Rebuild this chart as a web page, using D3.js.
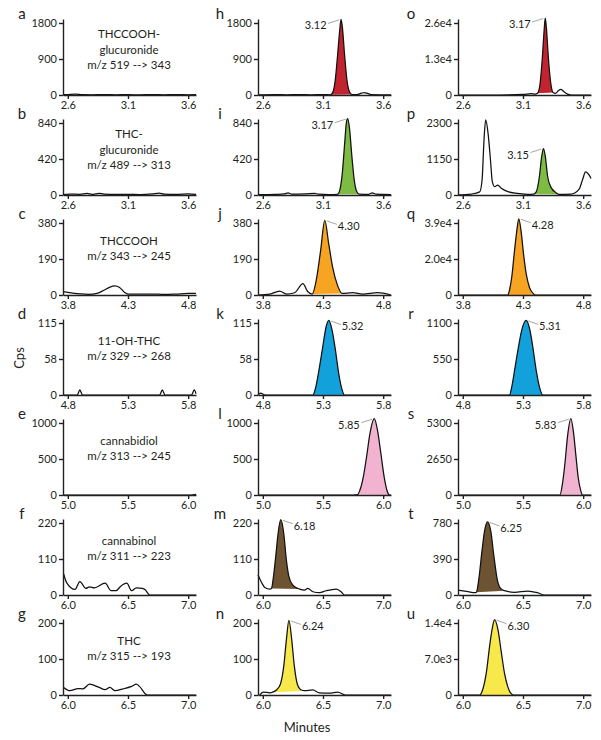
<!DOCTYPE html>
<html><head><meta charset="utf-8">
<script src="https://cdn.jsdelivr.net/npm/d3@7"></script>
<style>
body{margin:0;background:#fff}
svg{display:block}
text{font-family:Lato,"Open Sans",sans-serif;fill:#231f20}
</style>
</head><body>
<svg id="c" width="601" height="740"></svg>
<script>
// ---------- data ----------
const lettersCol1 = ["a","b","c","d","e","f","g"];
const lettersCol2 = ["h","i","j","k","l","m","n"];
const lettersCol3 = ["o","p","q","r","s","t","u"];
const compoundNames = [["THCCOOH-","glucuronide"],["THC-","glucuronide"],["THCCOOH"],["11-OH-THC"],["cannabidiol"],["cannabinol"],["THC"]];
const transitions = ["m/z 519 --> 343","m/z 489 --> 313","m/z 343 --> 245","m/z 329 --> 268","m/z 313 --> 245","m/z 311 --> 223","m/z 315 --> 193"];
const xTickStart = [2.6, 2.6, 3.8, 4.8, 5.0, 6.0, 6.0];
const yMaxCol12 = [1800, 840, 380, 115, 1000, 220, 200];
const yMidLabelsCol12 = ["900","420","190","58","500","110","100"];
const yMaxLabelsCol12 = ["1800","840","380","115","1000","220","200"];
const yMaxCol3 = [26000, 2300, 39000, 1100, 5300, 780, 14000];
const yMidLabelsCol3 = ["1.3e4","1150","2.0e4","550","2650","390","7.0e3"];
const yMaxLabelsCol3 = ["2.6e4","2300","3.9e4","1100","5300","780","1.4e4"];
const peakLabelsCol2 = ["3.12","3.17","4.30","5.32","5.85","6.18","6.24"];
const peakLabelsCol3 = ["3.17","3.15","4.28","5.31","5.83","6.25","6.30"];
const labelSide = ["L","L","R","R","L","R","R"];
const fillRangesCol2 = [[3.16,3.34],[3.22,3.40],[4.21,4.459],[5.216,5.478],[5.788,6.055],[6.072,6.306],[6.072,6.347]];
const fillRangesCol3 = [[3.22,3.35],[3.19,3.40],[4.175,4.40],[5.188,5.464],[5.807,5.994],[6.113,6.347],[6.14,6.42]];
const peakColors = ["#c1232f","#7dbb42","#f6a421","#13a1db","#f1b3cf","#6e5332","#f7e84b"];

// traces: [minutes, cps]
const traceA = [[2.56,8],[2.6,12],[2.66,20],[2.72,10],[2.8,6],[2.9,10],[3.0,5],[3.1,8],[3.2,4],[3.3,10],[3.4,6],[3.5,10],[3.6,5],[3.665,8]];
const traceB = [[2.56,5],[2.62,10],[2.7,8],[2.76,18],[2.8,8],[2.86,20],[2.9,10],[3.0,6],[3.1,8],[3.2,5],[3.3,12],[3.36,22],[3.4,10],[3.5,8],[3.6,12],[3.665,6]];
const traceC = [[3.76,18],[3.8,14],[3.9,6],[3.97,3],[4.05,10],[4.1,25],[4.15,42],[4.19,48],[4.23,40],[4.27,15],[4.3,5],[4.4,4],[4.5,5],[4.6,3],[4.7,5],[4.8,8],[4.865,8]];
const traceD = [[4.76,0],[4.878,0],[4.9,8],[4.922,0],[5.563,0],[5.585,8],[5.607,0],[5.828,0],[5.85,8],[5.865,2]];
const traceE = [[4.96,0],[5.5,0],[6.0,0],[6.04,3],[6.065,10]];
const traceF = [[5.965,65],[5.99,38],[6.06,17],[6.10,41],[6.15,20],[6.18,25],[6.22,22],[6.31,36],[6.36,13],[6.40,13],[6.44,27],[6.49,36],[6.53,13],[6.57,22],[6.62,20],[6.645,15],[6.68,0],[7.065,0]];
const traceG = [[5.965,21],[6.017,12],[6.085,18],[6.126,17],[6.18,30],[6.26,21],[6.31,15],[6.35,21],[6.39,12],[6.46,17],[6.53,24],[6.57,30],[6.595,24],[6.66,0],[7.065,0]];
const traceH = [[2.56,5],[2.7,12],[2.8,5],[2.9,10],[3.0,5],[3.1,8],[3.16,5],[3.18,60],[3.2,330],[3.22,950],[3.24,1650],[3.25,1890],[3.26,1720],[3.28,980],[3.30,350],[3.32,80],[3.34,10],[3.38,8],[3.42,45],[3.445,60],[3.47,40],[3.5,10],[3.6,5],[3.665,3]];
const traceI = [[2.56,5],[2.7,8],[2.78,12],[2.81,25],[2.84,10],[2.95,12],[3.03,20],[3.06,10],[3.15,5],[3.22,8],[3.24,60],[3.26,250],[3.28,600],[3.295,850],[3.305,890],[3.32,780],[3.34,450],[3.36,170],[3.38,40],[3.40,10],[3.48,8],[3.51,25],[3.54,10],[3.6,8],[3.665,5]];
const traceJ = [[3.76,0],[3.858,5],[3.94,21],[3.996,5],[4.064,12],[4.133,60],[4.174,17],[4.21,5],[4.244,78],[4.28,233],[4.315,394],[4.348,268],[4.38,147],[4.42,52],[4.459,8],[4.546,12],[4.63,5],[4.753,12],[4.865,0]];
const traceK = [[4.76,0],[4.78,3],[4.82,0],[5.0,0],[5.216,0],[5.238,11],[5.271,45],[5.298,77],[5.326,109],[5.348,119],[5.375,104],[5.403,72],[5.43,35],[5.459,8],[5.478,0],[5.865,0]];
const traceL = [[4.96,0],[5.5,0],[5.75,0],[5.788,5],[5.807,69],[5.835,253],[5.862,530],[5.89,853],[5.926,1060],[5.953,898],[5.981,576],[6.008,253],[6.035,46],[6.055,0],[6.065,0]];
const traceM = [[5.96,61],[5.99,38],[6.017,23],[6.058,18],[6.072,20],[6.085,46],[6.107,117],[6.127,188],[6.149,230],[6.174,188],[6.196,106],[6.217,56],[6.25,30],[6.292,20],[6.306,18],[6.347,15],[6.374,20],[6.416,10],[6.47,7],[6.526,13],[6.61,18],[6.65,10],[6.678,0],[7.065,0]];
const traceN = [[5.975,0],[6.002,8],[6.058,6],[6.072,7],[6.113,14],[6.146,30],[6.174,80],[6.196,154],[6.217,207],[6.24,154],[6.262,80],[6.287,30],[6.32,14],[6.347,12],[6.416,14],[6.47,6],[6.554,5],[6.622,8],[6.686,0],[7.065,0]];
const traceO = [[2.56,0],[2.9,0],[3.1,200],[3.17,500],[3.2,300],[3.22,600],[3.24,3500],[3.26,13000],[3.275,23000],[3.285,27800],[3.295,24000],[3.31,14000],[3.33,4500],[3.35,900],[3.37,600],[3.395,1600],[3.415,2000],[3.44,1200],[3.47,300],[3.5,0],[3.665,0]];
const traceP = [[2.56,0],[2.67,30],[2.74,100],[2.76,480],[2.776,1750],[2.79,2400],[2.81,1960],[2.83,1110],[2.845,424],[2.864,265],[2.89,318],[2.92,212],[2.974,106],[3.057,53],[3.14,21],[3.19,30],[3.21,100],[3.236,583],[3.255,1220],[3.27,1485],[3.286,1220],[3.305,583],[3.333,244],[3.374,74],[3.40,21],[3.498,30],[3.567,190],[3.594,477],[3.62,742],[3.65,636],[3.665,530]];
const traceQ = [[3.76,0],[4.0,0],[4.175,0],[4.188,2700],[4.207,9900],[4.23,24300],[4.249,35000],[4.265,41300],[4.285,34100],[4.304,22500],[4.326,11700],[4.354,4100],[4.39,500],[4.40,0],[4.865,0]];
const traceR = [[4.76,0],[5.0,0],[5.188,0],[5.207,128],[5.235,434],[5.263,740],[5.29,995],[5.326,1140],[5.354,1020],[5.381,740],[5.409,383],[5.436,128],[5.464,0],[5.865,0]];
const traceS = [[4.96,0],[5.5,0],[5.807,0],[5.829,900],[5.849,2370],[5.87,4320],[5.898,5620],[5.92,4570],[5.94,2860],[5.959,1270],[5.981,290],[5.994,0],[6.065,0]];
const traceT = [[5.96,54],[6.044,36],[6.1,25],[6.113,30],[6.132,162],[6.16,486],[6.182,702],[6.204,792],[6.231,702],[6.259,414],[6.287,162],[6.314,72],[6.347,47],[6.43,29],[6.54,43],[6.62,25],[6.678,0],[7.065,0]];
const traceU = [[5.96,0],[6.1,0],[6.14,0],[6.168,1270],[6.196,4450],[6.223,9550],[6.245,13000],[6.264,14650],[6.292,12700],[6.32,8280],[6.347,4140],[6.374,1590],[6.40,300],[6.42,0],[7.065,0]];

const tracesCol1 = [traceA, traceB, traceC, traceD, traceE, traceF, traceG];
const tracesCol2 = [traceH, traceI, traceJ, traceK, traceL, traceM, traceN];
const tracesCol3 = [traceO, traceP, traceQ, traceR, traceS, traceT, traceU];

// ---------- layout ----------
const svg = d3.select("#c");
const colX0 = [63, 258, 458];
const colLetterX = [22, 220, 411];
const plotW = 133;
const ink = "#231f20";

function panel(r, c) {
  const lo = xTickStart[r];
  const x0 = colX0[c];
  const yBase = 95 + 100 * r;
  const ymax = c < 2 ? yMaxCol12[r] : yMaxCol3[r];
  const yLabels = ["0", c < 2 ? yMidLabelsCol12[r] : yMidLabelsCol3[r], c < 2 ? yMaxLabelsCol12[r] : yMaxLabelsCol3[r]];
  const x = d3.scaleLinear().domain([lo - 0.04, lo + 1.065]).range([x0, x0 + plotW]);
  const y = d3.scaleLinear().domain([0, ymax * 76 / 72]).range([yBase, yBase - 76]);
  const trace = [tracesCol1, tracesCol2, tracesCol3][c][r];
  const g = svg.append("g");

  const line = d3.line().x(d => x(d[0])).y(d => y(d[1])).curve(d3.curveMonotoneX);

  let pts = null;
  if (c > 0) {
    const fr = (c === 1 ? fillRangesCol2 : fillRangesCol3)[r];
    pts = trace.filter(d => d[0] >= fr[0] - 1e-9 && d[0] <= fr[1] + 1e-9);
    g.append("path").attr("d", line(pts) + "Z")
      .attr("fill", peakColors[r]).attr("stroke", "none");
  }
  g.append("path").attr("d", line(trace)).attr("fill", "none")
    .attr("stroke", "#111").attr("stroke-width", 1.25).attr("stroke-linejoin", "round");

  // axes
  const xa = g.append("g").attr("transform", `translate(0,${yBase})`)
    .call(d3.axisBottom(x).tickValues([lo, lo + 0.5, lo + 1.0]).tickFormat(d => d.toFixed(1))
      .tickSizeInner(4).tickSizeOuter(0).tickPadding(2));
  const ya = g.append("g").attr("transform", `translate(${x0},0)`)
    .call(d3.axisLeft(y).tickValues([0, ymax / 2, ymax]).tickFormat((d, i) => yLabels[i])
      .tickSizeInner(4).tickSizeOuter(0).tickPadding(2));
  [xa, ya].forEach(a => {
    a.selectAll("path,line").attr("stroke", ink).attr("stroke-width", 1.4);
    a.selectAll("text").attr("font-size", 11).attr("font-family", "Lato").attr("fill", ink);
  });

  // panel letter
  const letter = [lettersCol1, lettersCol2, lettersCol3][c][r];
  g.append("text").attr("x", colLetterX[c]).attr("y", 18.5 + 100 * r)
    .attr("text-anchor", "middle").attr("font-size", 15).text(letter);

  if (c === 0) {
    const lines = compoundNames[r].concat([transitions[r]]);
    const first = lines.length === 3 ? 38 : 45;
    const step = lines.length === 3 ? 15.5 : 14.5;
    lines.forEach((t, k) => {
      g.append("text").attr("x", 129).attr("y", first + 100 * r + k * step)
        .attr("text-anchor", "middle").attr("font-size", 11.5).text(t);
    });
  } else {
    // peak annotation at the top of the coloured peak
    const top = pts.reduce((a, b) => (b[1] > a[1] ? b : a));
    const px = x(top[0]), py = y(top[1]);
    const lab = (c === 1 ? peakLabelsCol2 : peakLabelsCol3)[r];
    const side = labelSide[r];
    if (side === "L") {
      g.append("line").attr("x1", px - 2).attr("y1", py + 0.5).attr("x2", px - 13).attr("y2", py + 4)
        .attr("stroke", "#808080").attr("stroke-width", 0.7);
      g.append("text").attr("x", px - 14.5).attr("y", py + 10).attr("text-anchor", "end")
        .attr("font-size", 11).text(lab);
    } else {
      g.append("line").attr("x1", px + 2).attr("y1", py + 0.5).attr("x2", px + 12).attr("y2", py + 4)
        .attr("stroke", "#808080").attr("stroke-width", 0.7);
      g.append("text").attr("x", px + 13).attr("y", py + 10).attr("text-anchor", "start")
        .attr("font-size", 11).text(lab);
    }
  }
}

for (let r = 0; r < 7; r++) for (let c = 0; c < 3; c++) panel(r, c);

svg.append("text").attr("transform", "translate(24,358) rotate(-90)")
  .attr("text-anchor", "middle").attr("font-size", 13).text("Cps");
svg.append("text").attr("x", 307).attr("y", 732)
  .attr("text-anchor", "middle").attr("font-size", 13).text("Minutes");
</script>
</body></html>
